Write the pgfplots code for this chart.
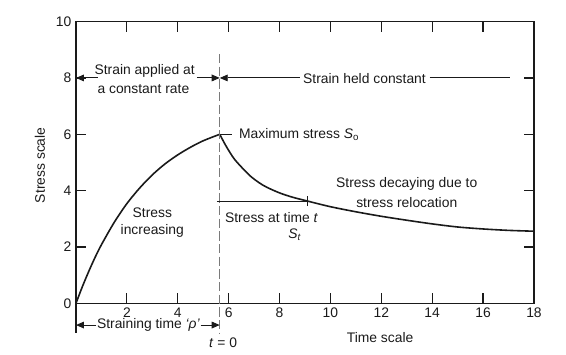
\documentclass[border=0pt]{standalone}
\usepackage{fontspec}
\setmainfont{Liberation Sans}
\usepackage{pgfplots}
\pgfplotsset{compat=1.18}
\usetikzlibrary{arrows.meta}
\definecolor{ink}{HTML}{1A1A1A}
\definecolor{dashgray}{HTML}{7A7A7A}
\begin{document}
\begin{tikzpicture}[font=\fontsize{10.4}{12.5}\selectfont,
  arr/.style={-{Triangle[length=6pt,width=5pt]}, ink, line width=0.7pt}]
\begin{axis}[
  scale only axis, width=343.5pt, height=211.3pt,
  xmin=0, xmax=18, ymin=0, ymax=10,
  xtick={2,4,...,18}, ytick={0,2,...,10},
  tick pos=both, ticklabel pos=left,
  xticklabel pos=bottom,
  tick align=inside, major tick length=7.5pt,
  axis line style={ink, line width=0.9pt},
  tick style={ink, line width=0.9pt},
  /pgf/number format/assume math mode=true,
  ticklabel style={font=\fontsize{10.4}{12}\selectfont, text=ink},
  xlabel={Time scale},
  xlabel style={at={(rel axis cs:0.664,-0.12)}, anchor=center, text=ink},
  ylabel={Stress scale},
  ylabel style={at={(rel axis cs:-0.0786,0.49)}, anchor=center, text=ink},
  clip=false,
]
% rising curve
\addplot[ink, line width=1.2pt, smooth] coordinates {
 (0,0) (0.25,0.59) (0.5,1.13) (0.75,1.63) (1,2.08) (1.5,2.87) (2,3.54)
 (2.5,4.09) (3,4.56) (3.5,4.95) (4,5.27) (4.5,5.54) (5,5.77) (5.65,6.0)};
% decay curve
\addplot[ink, line width=1.2pt, smooth] coordinates {
 (5.65,6.00) (5.9,5.58) (6.2,5.15) (6.5,4.84) (6.85,4.52) (7.2,4.28)
 (7.5,4.12) (8.0,3.92) (8.5,3.77) (9.1,3.63) (10,3.43) (11,3.25)
 (12,3.09) (13,2.95) (14,2.82) (15,2.71) (16,2.64) (17,2.59) (18,2.56)};
% dashed t=0 line
\draw[dashgray, line width=0.7pt, dash pattern=on 7pt off 2.5pt]
  (axis cs:5.65,8.85) -- (axis cs:5.65,-1.05);
% extension of y axis below
\draw[ink, line width=0.9pt] (axis cs:0,0) -- (axis cs:0,-1.05);
% top arrows
\draw[arr] (axis cs:0.85,8) -- (axis cs:0,8);
\draw[arr] (axis cs:4.75,8) -- (axis cs:5.65,8);
\draw[arr] (axis cs:8.8,8) -- (axis cs:5.65,8);
\draw[ink, line width=0.7pt] (axis cs:13.9,8) -- (axis cs:17.05,8);
\node[text=ink] at (axis cs:2.7,8.24) {Strain applied at};
\node[text=ink] at (axis cs:2.65,7.6) {a constant rate};
\node[text=ink] at (axis cs:11.34,7.98) {Strain held constant};
% bottom arrow
\draw[arr] (axis cs:0.8,-0.77) -- (axis cs:0,-0.77);
\draw[arr] (axis cs:4.9,-0.77) -- (axis cs:5.65,-0.77);
\node[text=ink] at (axis cs:2.85,-0.77) {Straining time \textit{‘ρ’}};
\node[text=ink] at (axis cs:5.78,-1.41) {\textit{t} = 0};
% maximum stress
\draw[ink, line width=0.7pt] (axis cs:5.65,6) -- (axis cs:6.15,6);
\node[text=ink, anchor=west, inner sep=0pt] at (axis cs:6.4,6.0) {Maximum stress \textit{S}\textsubscript{o}};
% stress at time t
\draw[ink, line width=0.7pt] (axis cs:5.54,3.63) -- (axis cs:9.1,3.63);
\draw[ink, line width=0.7pt] (axis cs:9.1,3.45) -- (axis cs:9.1,3.82);
\node[text=ink, anchor=west, inner sep=0pt] at (axis cs:5.85,3.04) {Stress at time \textit{t}};
\node[text=ink] at (axis cs:8.6,2.42) {\textit{S}\textsubscript{\textit{t}}};
% decay label
\node[text=ink] at (axis cs:13.0,4.23) {Stress decaying due to};
\node[text=ink] at (axis cs:13.0,3.58) {stress relocation};
% increasing label
\node[text=ink] at (axis cs:3.0,3.23) {Stress};
\node[text=ink] at (axis cs:3.0,2.57) {increasing};
% bounding box corners
\coordinate (bbl) at (rel axis cs:-0.1659,-0.1802);
\coordinate (btr) at (rel axis cs:1.0699,1.0767);
\end{axis}
\pgfresetboundingbox
\useasboundingbox (bbl) rectangle (btr);
\end{tikzpicture}
\end{document}
